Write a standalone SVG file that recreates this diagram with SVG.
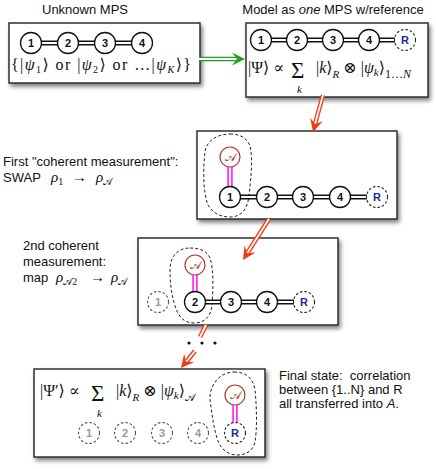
<svg xmlns="http://www.w3.org/2000/svg" width="436" height="469" viewBox="0 0 436 469">
<defs>
<filter id="sh" x="-10%" y="-10%" width="130%" height="140%"><feDropShadow dx="2" dy="3" stdDeviation="2" flood-color="#000" flood-opacity="0.5"/></filter>
<path id="ah" d="M0,0 L-13,-6.5 L-8,0 L-13,6.5 Z"/>
</defs>
<style>
.box{fill:#fff;stroke:#222;stroke-width:1.4;filter:url(#sh)}
.lbl{font-family:"Liberation Sans",Arial,sans-serif;font-size:13px;fill:#111}
.m{font-family:"Liberation Serif","DejaVu Serif",serif;fill:#111}
.i{font-style:italic}
.n{fill:#fff;stroke:#111;stroke-width:1.3}
.nd{fill:#fff;stroke:#222;stroke-width:1.1;stroke-dasharray:2.5 2}
.ndg{fill:#fff;stroke:#555;stroke-width:1.1;stroke-dasharray:2.5 2}
.nt{font-family:"Liberation Sans",Arial,sans-serif;font-size:11px;font-weight:bold;fill:#111;text-anchor:middle}
.ntg{font-family:"Liberation Sans",Arial,sans-serif;font-size:11px;font-weight:bold;fill:#999;text-anchor:middle}
.ntr{font-family:"Liberation Sans",Arial,sans-serif;font-size:11px;font-weight:bold;fill:#1a2a9a;text-anchor:middle}
.na{fill:#fff;stroke:#a83a2a;stroke-width:1.2}
.nta{font-family:"DejaVu Serif","Liberation Serif",serif;font-size:12px;fill:#a83a2a;text-anchor:middle}
.b1{stroke:#111;stroke-width:5;fill:none}
.b2{stroke:#fff;stroke-width:1.8;fill:none}
.mg1{stroke:#ff2bff;stroke-width:5.5;fill:none}
.mg2{stroke:#fff;stroke-width:2;fill:none}
.blob{fill:none;stroke:#222;stroke-width:1;stroke-dasharray:3 2.2}
.r1{stroke:#f03a10;stroke-width:4.5;fill:none}
.r2{stroke:#fff;stroke-width:1.8;fill:none}
.rh{fill:#f03a10}
.g1{stroke:#22a022;stroke-width:4.5;fill:none}
.g2{stroke:#fff;stroke-width:1.8;fill:none}
.gh{fill:#22a022}
</style>

<!-- titles and labels -->
<text class="lbl" x="85" y="14" text-anchor="middle">Unknown MPS</text>
<text class="lbl" x="333" y="14" text-anchor="middle">Model as <tspan class="i">one</tspan> MPS w/reference</text>
<text class="lbl" x="3" y="166">First "coherent measurement":</text>
<text class="lbl" x="3" y="182">SWAP <tspan class="m i" font-size="15" x="51">ρ</tspan><tspan class="m" font-size="10" dy="3">1</tspan><tspan class="m" font-size="15" dy="-3" x="72">→</tspan><tspan class="m i" font-size="15" x="96">ρ</tspan><tspan class="m" font-size="10" dy="3">𝒜</tspan></text>
<text class="lbl" x="23" y="250">2nd coherent</text>
<text class="lbl" x="23" y="266">measurement:</text>
<text class="lbl" x="23" y="282">map <tspan class="m i" font-size="15" x="56">ρ</tspan><tspan class="m" font-size="10" dy="3">𝒜2</tspan><tspan class="m" font-size="15" dy="-3" x="90">→</tspan><tspan class="m i" font-size="15" x="111">ρ</tspan><tspan class="m" font-size="10" dy="3">𝒜</tspan></text>
<text class="lbl" x="279" y="380" font-size="12.5" xml:space="preserve">Final state:  correlation</text>
<text class="lbl" x="279" y="394" font-size="12.5">between {1..N} and R</text>
<text class="lbl" x="279" y="408" font-size="12.5">all transferred into <tspan class="i">A</tspan>.</text>

<!-- boxes -->
<g id="box1">
<rect class="box" x="9" y="23" width="191" height="60"/>
<g id="chain1">
<line class="b1" x1="31" y1="43" x2="142" y2="43"/><line class="b2" x1="31" y1="43" x2="142" y2="43"/>
<circle class="n" cx="31" cy="43" r="10.5"/><text class="nt" x="31" y="47">1</text>
<circle class="n" cx="68" cy="43" r="10.5"/><text class="nt" x="68" y="47">2</text>
<circle class="n" cx="105" cy="43" r="10.5"/><text class="nt" x="105" y="47">3</text>
<circle class="n" cx="142" cy="43" r="10.5"/><text class="nt" x="142" y="47">4</text>
</g>
<text class="m" font-size="16" x="11" y="70" textLength="180" lengthAdjust="spacing">{|<tspan class="i">ψ</tspan><tspan font-size="10" dy="3">1</tspan><tspan dy="-3">⟩</tspan> or |<tspan class="i">ψ</tspan><tspan font-size="10" dy="3">2</tspan><tspan dy="-3">⟩</tspan> or …|<tspan class="i">ψ</tspan><tspan class="i" font-size="10" dy="3">K</tspan><tspan dy="-3">⟩}</tspan></text>
</g>

<g id="box2">
<rect class="box" x="246" y="23" width="182" height="74"/>
<line class="b1" x1="261" y1="40" x2="405" y2="40"/><line class="b2" x1="261" y1="40" x2="405" y2="40"/>
<circle class="n" cx="261" cy="40" r="10.5"/><text class="nt" x="261" y="44">1</text>
<circle class="n" cx="297" cy="40" r="10.5"/><text class="nt" x="297" y="44">2</text>
<circle class="n" cx="333" cy="40" r="10.5"/><text class="nt" x="333" y="44">3</text>
<circle class="n" cx="369" cy="40" r="10.5"/><text class="nt" x="369" y="44">4</text>
<circle class="nd" cx="405" cy="40" r="10.5"/><text class="ntr" x="405" y="44">R</text>
<text class="m" font-size="16" x="248" y="73">|Ψ⟩ ∝</text>
<text class="m" font-size="23" x="291" y="78">Σ</text>
<text class="m i" font-size="11" x="297" y="93">k</text>
<text class="m" font-size="16" x="316" y="73">|<tspan class="i">k</tspan>⟩<tspan class="i" font-size="11" dy="5">R</tspan><tspan dy="-5"> ⊗ |</tspan><tspan class="i">ψ</tspan><tspan class="i" font-size="11" dy="3">k</tspan><tspan dy="-3">⟩</tspan><tspan font-size="12" dy="5">1…</tspan><tspan class="i" font-size="12">N</tspan></text>
</g>

<g id="box3">
<rect class="box" x="197" y="131" width="200" height="88"/>
<path class="blob" d="M230,134 C240,134 247,138 250,146 C253,158 251,178 249,195 C248,208 242,217 230,217 C219,217 212,212 208,205 C203,192 203,170 205,152 C206,142 216,134 230,134 Z"/>
<line class="mg1" x1="230" y1="167" x2="230" y2="187"/><line class="mg2" x1="230" y1="167" x2="230" y2="187"/>
<line class="b1" x1="230" y1="197" x2="377" y2="197"/><line class="b2" x1="230" y1="197" x2="377" y2="197"/>
<circle class="na" cx="230" cy="157" r="10"/><text class="nta" x="230" y="161">𝒜</text>
<circle class="n" cx="230" cy="197" r="10.5"/><text class="nt" x="230" y="201">1</text>
<circle class="n" cx="267" cy="197" r="10.5"/><text class="nt" x="267" y="201">2</text>
<circle class="n" cx="303" cy="197" r="10.5"/><text class="nt" x="303" y="201">3</text>
<circle class="n" cx="340" cy="197" r="10.5"/><text class="nt" x="340" y="201">4</text>
<circle class="nd" cx="377" cy="197" r="10.5"/><text class="ntr" x="377" y="201">R</text>
</g>

<g id="box4">
<rect class="box" x="138" y="238" width="200" height="87"/>
<path class="blob" d="M190,248 C200,248 207,251 210,258 C214,270 213,290 212,305 C211,317 204,323 194,323 C185,323 180,318 177,311 C172,300 170,285 170,270 C170,256 178,248 190,248 Z"/>
<line class="mg1" x1="195" y1="275" x2="195" y2="292"/><line class="mg2" x1="195" y1="275" x2="195" y2="292"/>
<line class="b1" x1="195" y1="302" x2="304" y2="302"/><line class="b2" x1="195" y1="302" x2="304" y2="302"/>
<circle class="ndg" cx="158" cy="302" r="10.5"/><text class="ntg" x="158" y="306" font-weight="normal">1</text>
<circle class="na" cx="195" cy="265" r="10"/><text class="nta" x="195" y="269">𝒜</text>
<circle class="n" cx="195" cy="302" r="10.5"/><text class="nt" x="195" y="306">2</text>
<circle class="n" cx="231" cy="302" r="10.5"/><text class="nt" x="231" y="306">3</text>
<circle class="n" cx="267" cy="302" r="10.5"/><text class="nt" x="267" y="306">4</text>
<circle class="nd" cx="304" cy="302" r="10.5"/><text class="ntr" x="304" y="306">R</text>
</g>

<g id="box5">
<rect class="box" x="34" y="369" width="231" height="88"/>
<path class="blob" d="M234,372 C246,372 253,378 255,390 C257,410 257,430 255,442 C253,451 246,455 237,455 C228,455 221,449 218,441 C214,430 212,415 210,400 C209,385 220,372 234,372 Z"/>
<text class="m" font-size="16" x="40" y="396">|Ψ′⟩ ∝</text>
<text class="m" font-size="23" x="91" y="401">Σ</text>
<text class="m i" font-size="11" x="97" y="417">k</text>
<text class="m" font-size="16" x="116" y="396">|<tspan class="i">k</tspan>⟩<tspan class="i" font-size="11" dy="5">R</tspan><tspan dy="-5"> ⊗ |</tspan><tspan class="i">ψ</tspan><tspan class="i" font-size="11" dy="3">k</tspan><tspan dy="-3">⟩</tspan><tspan font-size="11" dy="5">𝒜</tspan></text>
<line class="mg1" x1="235" y1="405" x2="235" y2="423"/><line class="mg2" x1="235" y1="405" x2="235" y2="423"/>
<circle class="ndg" cx="89" cy="433" r="10.5"/><text class="ntg" x="89" y="437">1</text>
<circle class="ndg" cx="125" cy="433" r="10.5"/><text class="ntg" x="125" y="437">2</text>
<circle class="ndg" cx="162" cy="433" r="10.5"/><text class="ntg" x="162" y="437">3</text>
<circle class="ndg" cx="198" cy="433" r="10.5"/><text class="ntg" x="198" y="437">4</text>
<circle class="na" cx="235" cy="395" r="10"/><text class="nta" x="235" y="399">𝒜</text>
<circle class="nd" cx="235" cy="433" r="10.5"/><text class="ntr" x="235" y="437">R</text>
</g>

<!-- connectors -->
<g id="connectors">
<line class="g1" x1="199" y1="59" x2="236" y2="59"/><line class="g2" x1="199" y1="59" x2="237" y2="59"/>
<use href="#ah" class="gh" transform="translate(245,59)"/>

<line class="r1" x1="323" y1="95" x2="315" y2="124"/><line class="r2" x1="323" y1="95" x2="315" y2="124"/>
<use href="#ah" class="rh" transform="translate(313,132) rotate(105.5)"/>

<line class="r1" x1="269" y1="219" x2="248" y2="252"/><line class="r2" x1="269" y1="219" x2="248" y2="252"/>
<use href="#ah" class="rh" transform="translate(243,260) rotate(122.4)"/>

<line class="r1" x1="206" y1="325" x2="200" y2="337"/><line class="r2" x1="206" y1="325" x2="200" y2="337"/>
<circle cx="189" cy="343" r="1.6" fill="#111"/><circle cx="202" cy="343" r="1.6" fill="#111"/><circle cx="215" cy="343" r="1.6" fill="#111"/>
<line class="r1" x1="195" y1="351" x2="187" y2="361"/><line class="r2" x1="195" y1="351" x2="187" y2="361"/>
<use href="#ah" class="rh" transform="translate(181,368) rotate(129)"/>
</g>
</svg>
